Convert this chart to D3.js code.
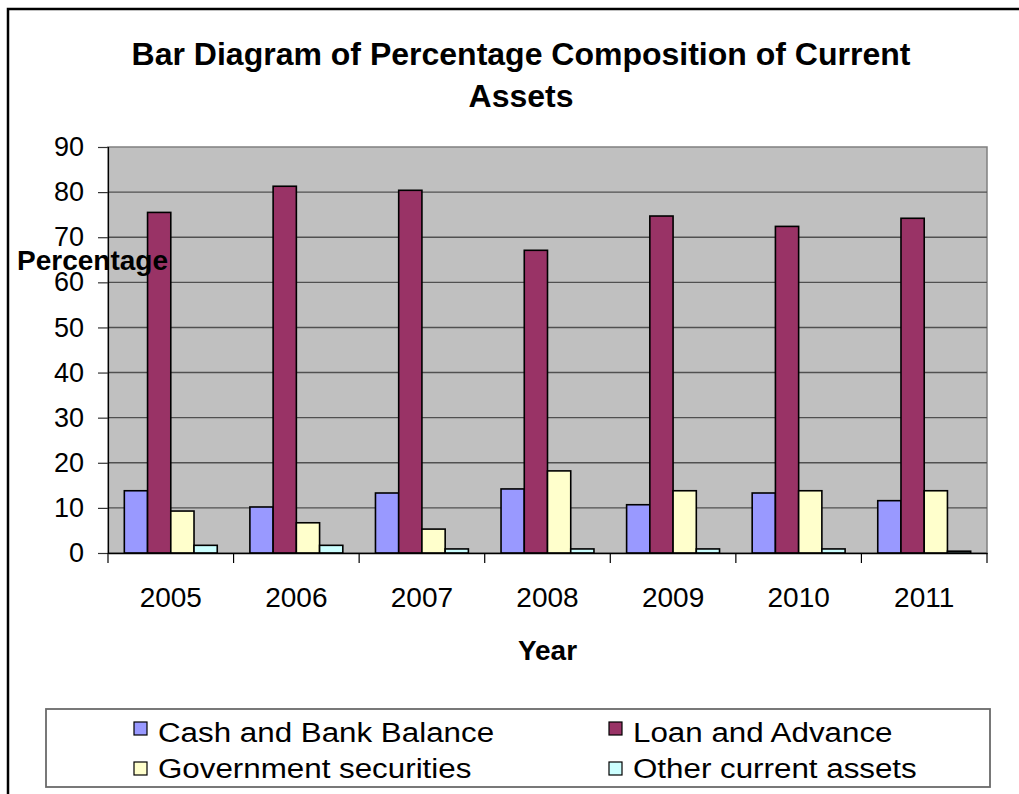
<!DOCTYPE html>
<html>
<head>
<meta charset="utf-8">
<script src="https://cdn.jsdelivr.net/npm/d3@7"></script>
<style>
  html, body { margin: 0; padding: 0; background: #fff; }
  svg { display: block; font-family: "Liberation Sans", Arial, sans-serif; }
</style>
</head>
<body>
<svg id="chart" width="1019" height="794"></svg>
<script>
const years = ["2005", "2006", "2007", "2008", "2009", "2010", "2011"];
const seriesNames = ["Cash and Bank Balance", "Loan and Advance", "Government securities", "Other current assets"];
const cashBank = [13.8, 10.2, 13.3, 14.2, 10.7, 13.3, 11.6];
const loanAdvance = [75.5, 81.3, 80.4, 67.1, 74.7, 72.4, 74.2];
const govtSecurities = [9.3, 6.7, 5.3, 18.2, 13.8, 13.8, 13.8];
const otherAssets = [1.7, 1.7, 0.9, 0.9, 0.9, 0.9, 0.4];
const yTicks = [0, 10, 20, 30, 40, 50, 60, 70, 80, 90];
const titleLines = ["Bar Diagram of Percentage Composition of Current", "Assets"];
const xTitle = "Year";
const yTitle = "Percentage";

const seriesValues = [cashBank, loanAdvance, govtSecurities, otherAssets];
const colors = ["#9999FF", "#993366", "#FFFFCC", "#CCFFFF"];

const svg = d3.select("#chart");

// outer chart frame
svg.append("rect").attr("x", 8).attr("y", 9).attr("width", 1100).attr("height", 900)
  .attr("fill", "#fff").attr("stroke", "#000").attr("stroke-width", 2.5);

const plot = { left: 108, right: 987, top: 147, bottom: 553 };

const x = d3.scaleBand().domain(years).range([plot.left, plot.right])
  .paddingInner(0.26).paddingOuter(0.13);
const xs = d3.scaleBand().domain(d3.range(seriesNames.length)).range([0, x.bandwidth()]);
const y = d3.scaleLinear().domain([0, 90]).range([plot.bottom, plot.top]);

// plot background
svg.append("rect").attr("x", plot.left).attr("y", plot.top)
  .attr("width", plot.right - plot.left).attr("height", plot.bottom - plot.top)
  .attr("fill", "#C0C0C0").attr("stroke", "#808080").attr("stroke-width", 1.5);

// gridlines
svg.append("g").selectAll("line").data(yTicks.filter(t => t > 0 && t < 90)).join("line")
  .attr("x1", plot.left).attr("x2", plot.right)
  .attr("y1", d => y(d)).attr("y2", d => y(d))
  .attr("stroke", "#505050").attr("stroke-width", 1.4);

// bars
const data = years.map((yr, i) => ({ year: yr, vals: seriesValues.map(s => s[i]) }));
const groups = svg.append("g").selectAll("g").data(data).join("g")
  .attr("transform", d => `translate(${x(d.year)},0)`);
groups.selectAll("rect").data(d => d.vals.map((v, k) => ({ v, k }))).join("rect")
  .attr("x", d => xs(d.k)).attr("width", xs.bandwidth())
  .attr("y", d => y(d.v)).attr("height", d => y(0) - y(d.v))
  .attr("fill", d => colors[d.k]).attr("stroke", "#000").attr("stroke-width", 1.6);

// y axis
const yAxis = svg.append("g").attr("transform", `translate(${plot.left},0)`)
  .call(d3.axisLeft(y).tickValues(yTicks).tickSize(10).tickPadding(14).tickFormat(d3.format("d")));
yAxis.select(".domain").attr("stroke", "#000").attr("stroke-width", 1.2);
yAxis.selectAll(".tick line").attr("stroke", "#333").attr("stroke-width", 1.2);
yAxis.selectAll("text").attr("font-size", 27).attr("fill", "#000")
  .attr("font-family", "'Liberation Sans', Arial, sans-serif");

// x axis
const xAxis = svg.append("g").attr("transform", `translate(0,${plot.bottom})`)
  .call(d3.axisBottom(x).tickSize(0).tickPadding(0));
xAxis.select(".domain").attr("stroke", "#000").attr("stroke-width", 1.5);
xAxis.selectAll("text").attr("font-size", 28).attr("fill", "#000")
  .attr("y", 54).attr("dy", 0)
  .attr("font-family", "'Liberation Sans', Arial, sans-serif");
const boundaries = years.map(yr => x(yr) - x.step() * x.paddingInner() / 2);
boundaries.push(plot.right);
boundaries[0] = plot.left;
xAxis.selectAll(".bound").data(boundaries).join("line").attr("class", "bound")
  .attr("x1", d => d).attr("x2", d => d).attr("y1", 0).attr("y2", 10)
  .attr("stroke", "#000").attr("stroke-width", 1.2);

// titles
svg.append("g").selectAll("text").data(titleLines).join("text")
  .attr("x", 521).attr("y", (d, i) => 65 + i * 42)
  .attr("text-anchor", "middle").attr("font-size", 32).attr("font-weight", "bold")
  .text(d => d);

svg.append("text").attr("x", (plot.left + plot.right) / 2).attr("y", 660)
  .attr("text-anchor", "middle").attr("font-size", 28).attr("font-weight", "bold")
  .text(xTitle);

svg.append("text").attr("x", 17).attr("y", 270)
  .attr("font-size", 28).attr("font-weight", "bold")
  .text(yTitle);

// legend
svg.append("rect").attr("x", 46).attr("y", 709).attr("width", 944).attr("height", 78)
  .attr("fill", "#fff").attr("stroke", "#6a6a6a").attr("stroke-width", 1.8);
const legendPos = [
  { sx: 134, tx: 158, row: 0 },
  { sx: 609, tx: 633, row: 0 },
  { sx: 134, tx: 158, row: 1 },
  { sx: 609, tx: 633, row: 1 }
];
const legend = svg.append("g").selectAll("g").data(seriesNames).join("g");
legend.append("rect")
  .attr("x", (d, i) => legendPos[i].sx).attr("y", (d, i) => 722 + legendPos[i].row * 40)
  .attr("width", 13).attr("height", 13)
  .attr("fill", (d, i) => colors[i]).attr("stroke", "#000").attr("stroke-width", 1.2);
legend.append("text")
  .attr("x", (d, i) => legendPos[i].tx).attr("y", (d, i) => 742 + legendPos[i].row * 36)
  .attr("font-size", 27)
  .text(d => d)
  .each(function () {
    const w = this.getComputedTextLength();
    d3.select(this).attr("textLength", w * 1.16).attr("lengthAdjust", "spacingAndGlyphs");
  });
</script>
</body>
</html>
